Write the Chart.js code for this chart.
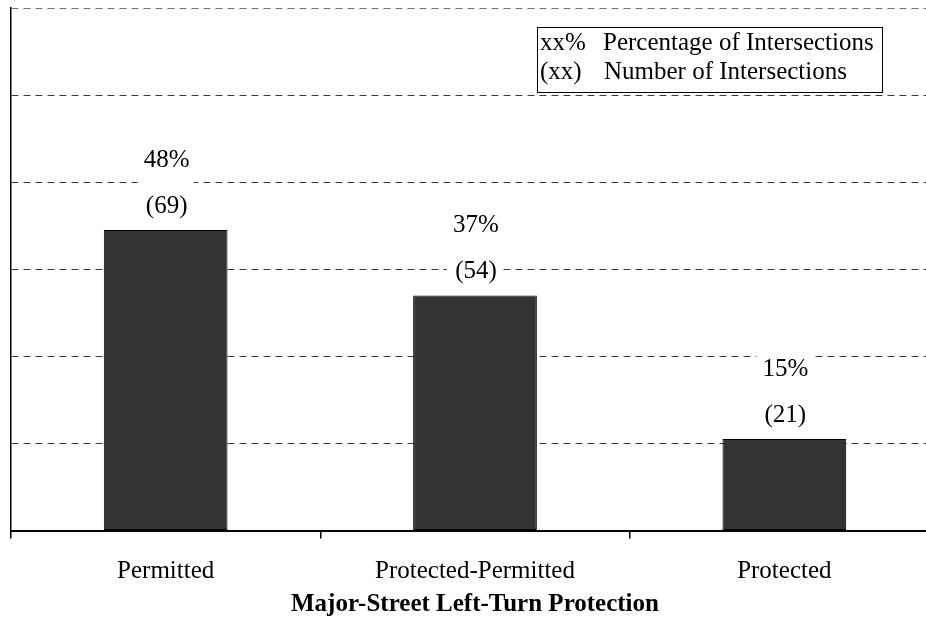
<!DOCTYPE html>
<html>
<head>
<meta charset="utf-8">
<script src="https://cdn.jsdelivr.net/npm/chart.js@4/dist/chart.umd.min.js"></script>
<style>
  html, body { margin: 0; padding: 0; background: #fff; overflow: hidden; }
  #wrap { width: 939px; height: 622px; position: relative; }
</style>
</head>
<body>
<div id="wrap"><canvas id="c"></canvas></div>
<script>
// Intersections by major-street left-turn protection type
const categories = ['Permitted', 'Protected-Permitted', 'Protected'];
const counts = [69, 54, 21];          // number of intersections
const percents = [48, 37, 15];        // percentage of intersections
const yMax = 120;
const yStep = 20;

const SERIF = '"Liberation Serif", "Times New Roman", serif';

// Two-line value labels (percentage over count) on a white backing box
const valueLabels = {
  id: 'valueLabels',
  afterDatasetsDraw(chart) {
    const ctx = chart.ctx;
    const meta = chart.getDatasetMeta(0);
    ctx.save();
    ctx.font = '25px ' + SERIF;
    ctx.textAlign = 'center';
    ctx.textBaseline = 'alphabetic';
    meta.data.forEach((bar, i) => {
      const l1 = percents[i] + '%';
      const l2 = '(' + counts[i] + ')';
      const b2 = bar.y - 17;
      const b1 = b2 - 46.5;
      const w = Math.max(ctx.measureText(l1).width, ctx.measureText(l2).width);
      ctx.fillStyle = '#ffffff';
      ctx.fillRect(bar.x - w / 2 - 5, b1 - 20, w + 10, (b2 + 6) - (b1 - 20));
      ctx.fillStyle = '#000000';
      ctx.fillText(l1, bar.x + 1, b1);
      ctx.fillText(l2, bar.x + 1, b2);
    });
    ctx.restore();
  }
};

// Key box explaining the label formats
const keyBox = {
  id: 'keyBox',
  afterDraw(chart) {
    const ctx = chart.ctx;
    ctx.save();
    const x = 537.5, y = 27.5, w = 345, h = 65;
    ctx.fillStyle = '#ffffff';
    ctx.fillRect(x, y, w, h);
    ctx.strokeStyle = '#000000';
    ctx.lineWidth = 1;
    ctx.strokeRect(x, y, w, h);
    ctx.fillStyle = '#000000';
    ctx.font = '25px ' + SERIF;
    ctx.textAlign = 'left';
    ctx.textBaseline = 'alphabetic';
    ctx.fillText('xx%', 540, 50);
    ctx.fillText('Percentage of Intersections', 603, 50);
    ctx.fillText('(xx)', 540, 79);
    ctx.fillText('Number of Intersections', 604, 79);
    ctx.restore();
  }
};

new Chart(document.getElementById('c'), {
  type: 'bar',
  data: {
    labels: categories,
    datasets: [{
      data: counts,
      backgroundColor: '#333333',
      borderColor: '#000000',
      borderWidth: 1,
      borderSkipped: false,
      categoryPercentage: 0.8,
      barPercentage: 0.5
    }]
  },
  options: {
    responsive: true,
    maintainAspectRatio: false,
    animation: false,
    layout: { padding: { top: 8, left: 0, right: 0, bottom: 0 } },
    plugins: {
      legend: { display: false },
      tooltip: { enabled: false }
    },
    scales: {
      x: {
        grid: {
          display: true,
          drawOnChartArea: false,
          drawTicks: true,
          tickLength: 8,
          color: '#000000',
          lineWidth: 1.5
        },
        border: { display: true, color: '#000000', width: 2 },
        ticks: {
          color: '#000000',
          font: { family: SERIF, size: 25 },
          padding: 18,
          maxRotation: 0
        },
        title: {
          display: true,
          text: 'Major-Street Left-Turn Protection',
          color: '#000000',
          font: { family: SERIF, size: 25, weight: 'bold' },
          padding: { top: 6, bottom: 2 }
        },
        afterFit(scale) { scale.height = 91.5; }
      },
      y: {
        min: 0,
        max: yMax,
        ticks: { display: false, stepSize: yStep },
        grid: {
          display: true,
          drawTicks: false,
          color: (ctx) => (ctx.tick && ctx.tick.value === yMax) ? '#777777' : '#3a3a3a',
          lineWidth: 1
        },
        border: { display: true, color: '#000000', width: 1.5, dash: [7, 5] },
        afterFit(scale) { scale.width = 11; }
      }
    }
  },
  plugins: [valueLabels, keyBox]
});
</script>
</body>
</html>
